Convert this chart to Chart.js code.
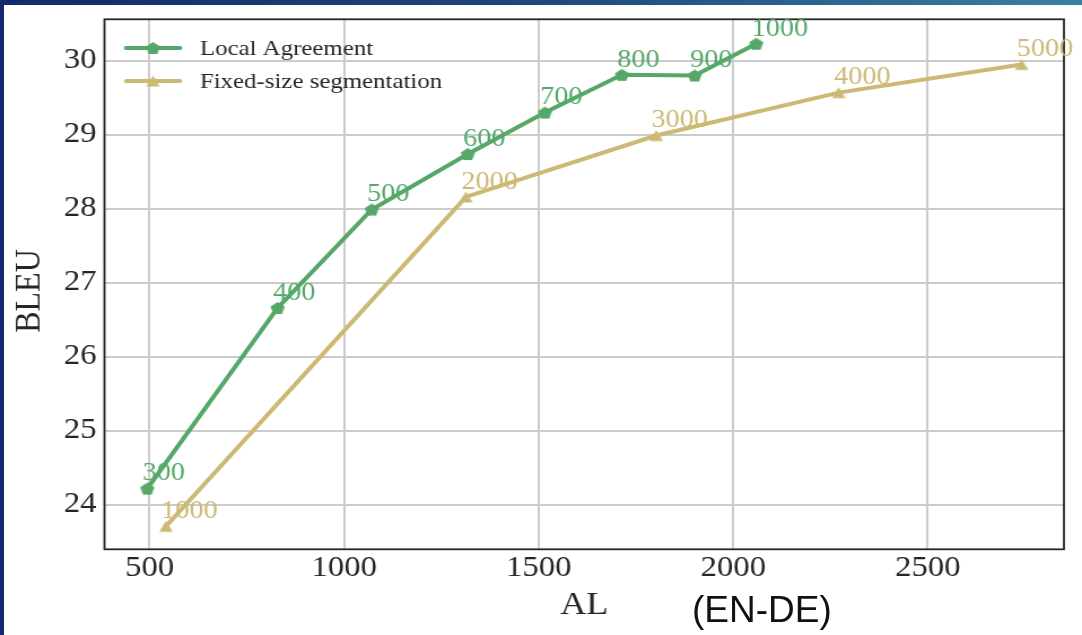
<!DOCTYPE html>
<html>
<head>
<meta charset="utf-8">
<title>BLEU vs AL (EN-DE)</title>
<script src="https://cdn.jsdelivr.net/npm/chart.js@4.4.1/dist/chart.umd.min.js"></script>
<style>
  html, body { margin: 0; padding: 0; background: #ffffff; width: 1082px; height: 635px; overflow: hidden; }
  #wrap { position: relative; width: 1082px; height: 635px; }
  /* the figure is drawn on a narrower canvas and widened horizontally */
  #plot { position: absolute; left: 0; top: 0; width: 958px; height: 635px;
          transform: scaleX(1.12944); transform-origin: 0 0; }
  #edgeLeft { position: absolute; left: 0; top: 0; width: 4px; height: 635px; background: #13296b; }
  #edgeTop { position: absolute; left: 0; top: 0; width: 1082px; height: 5px;
             background: linear-gradient(to right, #13296b 0%, #1f4879 50%, #3a80a4 100%); }
  #pair { position: absolute; left: 692px; top: 591px; font-family: "Liberation Sans", Arial, sans-serif;
          font-size: 37px; line-height: 37px; color: #111111; white-space: nowrap; }
</style>
</head>
<body>
<div id="wrap">
  <canvas id="plot" width="958" height="635"></canvas>
  <div id="edgeLeft"></div>
  <div id="edgeTop"></div>
  <div id="pair">(EN-DE)</div>
</div>
<script>
// Local Agreement: chunk sizes with their latency (AL) and BLEU
const laChunks  = ['300', '400', '500', '600', '700', '800', '900', '1000'];
const laLatency = [494, 829, 1071, 1318, 1516, 1714, 1901, 2059];
const laBleu    = [24.22, 26.66, 27.99, 28.74, 29.30, 29.81, 29.80, 30.23];

// Fixed-size segmentation: segment sizes with their latency (AL) and BLEU
const fsChunks  = ['1000', '2000', '3000', '4000', '5000'];
const fsLatency = [542, 1313, 1802, 2271, 2741];
const fsBleu    = [23.71, 28.16, 28.99, 29.57, 29.95];

// axis ticks
const xTickValues = [500, 1000, 1500, 2000, 2500];
const yTickValues = [24, 25, 26, 27, 28, 29, 30];

const GREEN = '#55a868';
const GOLD = '#ccb974';
const INK = '#262626';
const SERIF = "'Liberation Serif', 'Times New Roman', serif";

// marker glyphs
function makePentagon(color, r) {
  const c = document.createElement('canvas');
  c.width = 18; c.height = 18;
  const g = c.getContext('2d');
  g.fillStyle = color;
  g.beginPath();
  const cy = 9 + r * (1 - Math.cos(Math.PI / 5)) / 2;
  for (let k = 0; k < 5; k++) {
    const a = -Math.PI / 2 + k * 2 * Math.PI / 5;
    const px = 9 + r * Math.cos(a), py = cy + r * Math.sin(a);
    if (k === 0) g.moveTo(px, py); else g.lineTo(px, py);
  }
  g.closePath();
  g.fill();
  return c;
}
function makeTriangle(color, w, h) {
  const c = document.createElement('canvas');
  c.width = 18; c.height = 18;
  const g = c.getContext('2d');
  g.fillStyle = color;
  g.beginPath();
  g.moveTo(9, 9 - h / 2);
  g.lineTo(9 + w / 2, 9 + h / 2);
  g.lineTo(9 - w / 2, 9 + h / 2);
  g.closePath();
  g.fill();
  return c;
}
const pentagon = makePentagon(GREEN, 6.6);
const triangle = makeTriangle(GOLD, 12, 11);

const series = [
  { name: 'Local Agreement', color: GREEN, marker: pentagon, xs: laLatency, ys: laBleu, tags: laChunks },
  { name: 'Fixed-size segmentation', color: GOLD, marker: triangle, xs: fsLatency, ys: fsBleu, tags: fsChunks }
];

// frame, value tags, legend and axis titles
const decorations = {
  id: 'decorations',
  beforeDatasetsDraw(chart) {
    const { ctx, chartArea: a } = chart;
    ctx.save();
    ctx.strokeStyle = INK;
    ctx.lineWidth = 1.8;
    ctx.strokeRect(a.left, a.top, a.right - a.left, a.bottom - a.top);
    ctx.restore();
  },
  afterDatasetsDraw(chart) {
    const { ctx, chartArea: a, scales } = chart;
    const xs = scales.x, ys = scales.y;
    ctx.save();

    // value tags next to each point
    ctx.font = '25px ' + SERIF;
    ctx.textAlign = 'left';
    ctx.textBaseline = 'alphabetic';
    series.forEach(s => {
      ctx.fillStyle = s.color;
      s.tags.forEach((t, i) => {
        ctx.fillText(t, xs.getPixelForValue(s.xs[i] - 12), ys.getPixelForValue(s.ys[i] + 0.11));
      });
    });

    // legend
    const rows = [48, 81];
    ctx.font = '22px ' + SERIF;
    ctx.textBaseline = 'middle';
    series.forEach((s, i) => {
      const y = rows[i];
      ctx.strokeStyle = s.color;
      ctx.lineWidth = 4;
      ctx.lineCap = 'round';
      ctx.beginPath();
      ctx.moveTo(111.6, y);
      ctx.lineTo(159.4, y);
      ctx.stroke();
      ctx.drawImage(s.marker, 135.5 - 9, y - 9);
      ctx.fillStyle = INK;
      ctx.fillText(s.name, 177, y + 1);
    });

    // axis titles
    ctx.fillStyle = INK;
    ctx.font = '32px ' + SERIF;
    ctx.textAlign = 'center';
    ctx.textBaseline = 'alphabetic';
    ctx.fillText('AL', (a.left + a.right) / 2, 614);
    ctx.translate(26.5, 291);
    ctx.rotate(-Math.PI / 2);
    ctx.textBaseline = 'middle';
    ctx.fillText('BLEU', 0, 0);
    ctx.restore();
  }
};

Chart.defaults.font.family = SERIF;
Chart.defaults.color = INK;

new Chart(document.getElementById('plot'), {
  type: 'scatter',
  data: {
    datasets: series.map(s => ({
      label: s.name,
      data: s.xs.map((x, i) => ({ x: x, y: s.ys[i] })),
      showLine: true,
      borderColor: s.color,
      backgroundColor: s.color,
      borderWidth: 4,
      tension: 0,
      pointStyle: s.marker,
      pointRadius: 7,
      pointHoverRadius: 7
    }))
  },
  options: {
    responsive: false,
    animation: false,
    devicePixelRatio: 1,
    events: [],
    layout: { padding: { left: 0, right: 16, top: 19.3, bottom: 0 } },
    plugins: { legend: { display: false }, tooltip: { enabled: false } },
    scales: {
      x: {
        type: 'linear',
        min: 384,
        max: 2850,
        afterBuildTicks: s => { s.ticks = xTickValues.map(v => ({ value: v })); },
        afterFit: s => { s.height = 85.7; s.paddingLeft = 0; s.paddingRight = 0; },
        grid: { color: '#cccccc', lineWidth: 2, drawTicks: false },
        border: { display: false },
        ticks: { padding: 2, color: INK, font: { size: 29, family: SERIF }, callback: v => String(v), maxRotation: 0 }
      },
      y: {
        type: 'linear',
        min: 23.40,
        max: 30.56,
        afterBuildTicks: s => { s.ticks = yTickValues.map(v => ({ value: v })); },
        afterFit: s => { s.width = 92.5; s.paddingTop = 0; s.paddingBottom = 0; },
        grid: { color: '#cccccc', lineWidth: 2, drawTicks: false },
        border: { display: false },
        ticks: { padding: 7, color: INK, font: { size: 29, family: SERIF }, callback: v => String(v) }
      }
    }
  },
  plugins: [decorations]
});
</script>
</body>
</html>
